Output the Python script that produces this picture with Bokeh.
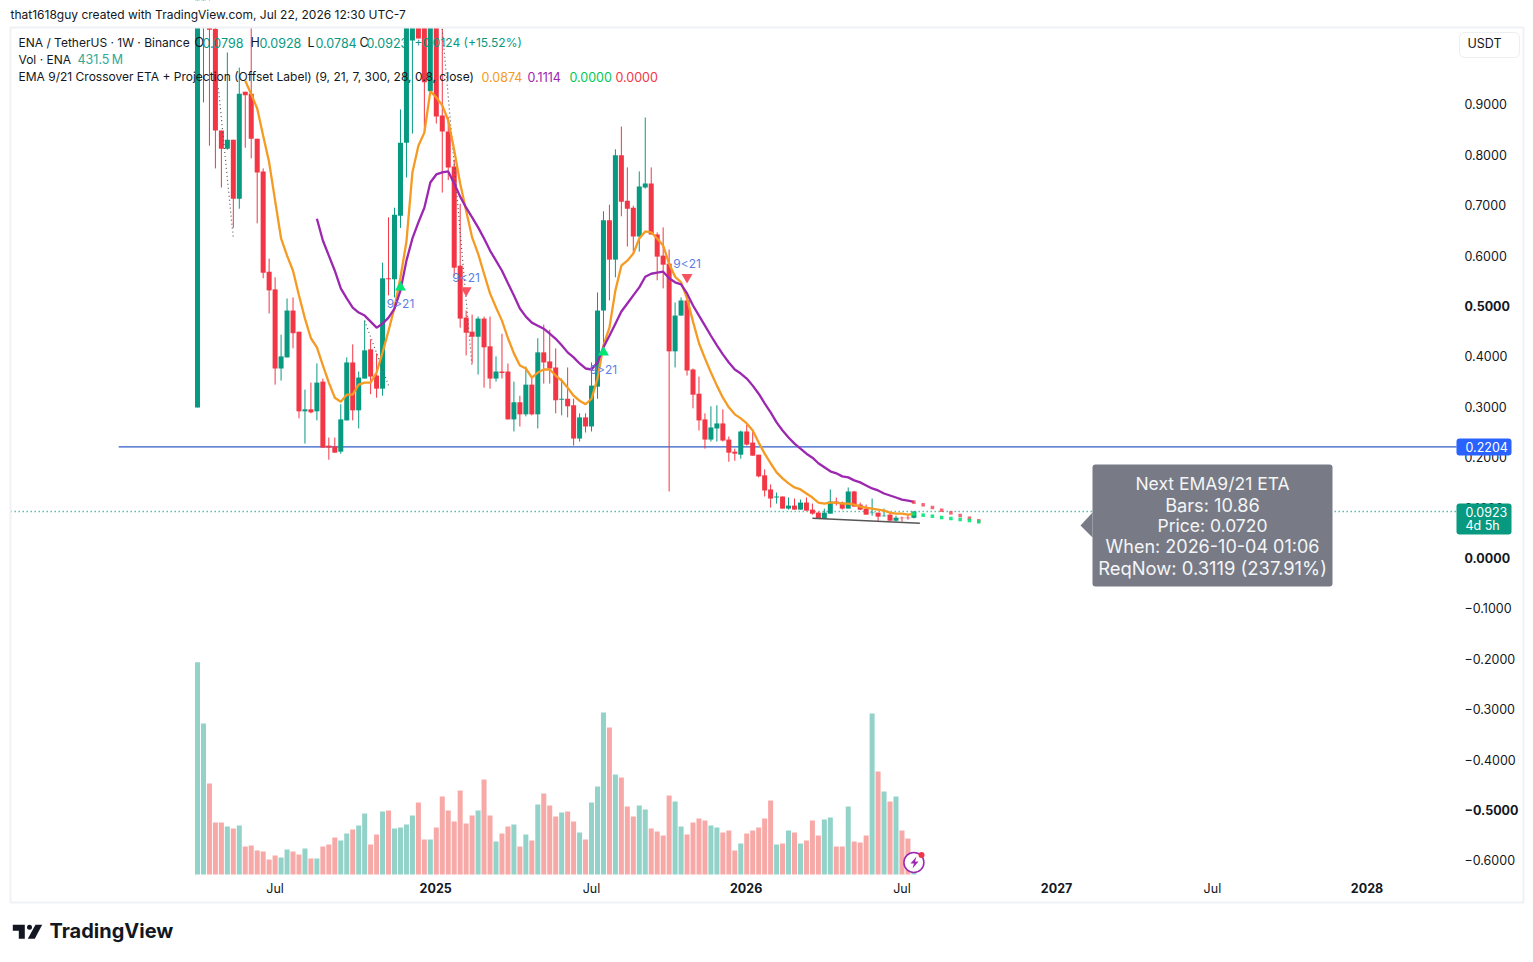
from bokeh.plotting import figure
from bokeh.embed import file_html
from bokeh.resources import INLINE
from bokeh.core.properties import value
from bokeh.models import (Range1d, LinearAxis, FixedTicker, Label, BoxAnnotation, PolyAnnotation,
                          ColumnDataSource)

opens = [.2986,1.10,1.053,1.05,.848,.812,.830,.713,.925,.921,.832,.767,.568,.533,.376,.398,.491,.449,.291,.295,
         .291,.350,.223,.221,.211,.273,.388,.293,.356,.414,.362,.336,.555,.553,.679,.824,1.027,1.07,1.08,.926,
         1.08,.878,.846,.777,.580,.477,.449,.439,.475,.420,.356,.370,.370,.275,.309,.285,.344,.285,.408,.390,
         .378,.314,.316,.303,.237,.279,.261,.340,.491,.670,.592,.799,.709,.695,.638,.735,.743,.642,.600,.584,
         .410,.481,.511,.374,.326,.275,.235,.257,.267,.235,.211,.205,.251,.229,.205,.164,.136,.120,.122,.098,
         .104,.096,.110,.096,.090,.078,.088,.112,.110,.098,.132,.106,.098,.089,.090,.083,.086,.074,.080,.080,.0798]
highs = [1.30,1.50,1.20,1.10,.848,1.003,.830,.973,.925,1.06,.832,.773,.594,.557,.443,.515,.517,.449,.334,.348,
         .386,.356,.239,.239,.305,.398,.424,.370,.471,.434,.406,.586,.676,.695,.890,1.10,1.09,1.09,1.10,1.10,
         1.10,1.05,.875,.790,.703,.491,.483,.479,.479,.479,.400,.445,.386,.350,.322,.380,.358,.436,.463,.453,
         .416,.356,.378,.316,.287,.287,.388,.527,.688,.701,.811,.856,.775,.699,.767,.874,.775,.646,.656,.612,
         .507,.517,.515,.376,.360,.287,.301,.303,.295,.241,.217,.253,.265,.255,.205,.176,.146,.130,.122,.120,
         .118,.116,.120,.108,.092,.098,.136,.120,.112,.140,.133,.110,.106,.118,.090,.098,.090,.084,.082,.086,.0928]
lows = [.2986,.904,.818,.773,.735,.810,.655,.693,.814,.793,.664,.555,.485,.344,.352,.398,.416,.277,.227,.287,
        .273,.219,.195,.209,.207,.273,.273,.257,.356,.325,.318,.322,.521,.517,.655,.755,.842,1.031,.844,.920,
        .862,.725,.750,.560,.457,.402,.386,.364,.338,.336,.350,.356,.275,.251,.261,.281,.283,.257,.346,.346,
        .287,.283,.279,.223,.231,.249,.251,.316,.418,.511,.557,.678,.618,.606,.608,.733,.642,.551,.535,.132,
        .378,.481,.362,.297,.253,.217,.231,.231,.231,.191,.193,.197,.223,.203,.160,.122,.100,.108,.098,.096,
        .096,.096,.094,.086,.078,.078,.088,.104,.096,.098,.102,.095,.086,.084,.072,.082,.074,.072,.072,.076,.0784]
closes = [1.25,1.30,1.048,.848,.812,.830,.713,.921,.918,.832,.765,.566,.531,.376,.400,.491,.446,.291,.295,.289,
          .348,.219,.219,.209,.275,.388,.293,.358,.412,.360,.336,.555,.553,.681,.824,1.08,1.052,1.031,.944,1.08,
          .876,.846,.775,.576,.475,.447,.439,.475,.418,.356,.370,.367,.275,.309,.285,.344,.285,.408,.388,.376,
          .313,.316,.301,.237,.279,.261,.342,.491,.670,.592,.799,.707,.693,.638,.737,.743,.642,.598,.582,.410,
          .481,.511,.372,.324,.273,.235,.259,.267,.233,.209,.207,.251,.225,.203,.162,.134,.118,.122,.098,.104,
          .096,.110,.094,.088,.078,.090,.112,.108,.098,.132,.102,.096,.086,.090,.082,.084,.074,.080,.079,.079,.0923]
volumes = [4247,3020,1820,1040,1040,960,920,980,560,580,480,460,300,380,340,500,460,400,520,320,
           320,560,600,740,680,820,900,980,1220,600,800,1260,1280,920,940,1000,1180,1440,700,700,
           940,1560,1280,1060,1680,1020,1180,1280,1900,1180,660,820,960,1000,560,800,680,1400,1620,1380,
           1160,1240,1260,1060,840,700,1440,1760,3240,2940,2000,1940,1360,1160,1380,1300,920,860,780,1580,
           1460,960,800,1040,1120,1080,980,940,840,880,480,620,820,880,940,1120,1480,600,620,880,
           840,620,680,1080,780,1100,1140,560,560,1360,660,640,780,3220,2060,1660,1460,1560,880,720,431.5]
ema9_first = 8
ema9 = [.947,.920,.892,.838,.785,.709,.634,.600,.570,.521,.475,.436,.418,.382,.348,.318,.310,.324,.324,.344,
        .348,.348,.368,.408,.451,.497,.557,.628,.765,.818,.844,.926,.914,.898,.868,.809,.743,.689,.636,.604,
        .564,.525,.497,.471,.436,.406,.382,.376,.358,.368,.374,.374,.362,.352,.338,.322,.312,.305,.316,.356,
        .422,.457,.531,.580,.590,.604,.634,.648,.646,.634,.620,.584,.558,.547,.515,.469,.426,.396,.368,.342,
        .318,.299,.285,.277,.267,.253,.229,.207,.188,.170,.158,.148,.140,.136,.128,.120,.110,.108,.110,.110,
        .108,.108,.106,.102,.100,.098,.096,.094,.090,.088,.088,.086,.0874]
ema21_first = 20
ema21 = [.673,.630,.600,.570,.535,.515,.497,.487,.481,.469,.457,.465,.477,.495,.531,.590,.634,.666,.695,.745,
         .761,.765,.767,.743,.717,.695,.676,.656,.634,.610,.590,.570,.545,.521,.495,.479,.467,.461,.455,.445,
         .435,.422,.408,.398,.386,.376,.374,.388,.418,.441,.465,.489,.505,.521,.537,.558,.564,.566,.568,.555,
         .547,.543,.525,.501,.481,.461,.441,.422,.404,.388,.374,.366,.356,.342,.326,.307,.289,.269,.253,.239,
         .227,.217,.207,.199,.188,.180,.172,.168,.162,.160,.154,.150,.144,.138,.134,.128,.124,.120,.116,.114,.1114]
proj_x = [120, 121.55, 123.1, 124.65, 126.2, 127.75, 129.3, 130.86]
proj_slow = [.1107, .1055, .1002, .0948, .0896, .0843, .0790, .0738]
proj_fast = [.0874, .0850, .0829, .0803, .0784, .0764, .0744, .0718]
up_x, up_y = [34, 68], [.537, .408]
up_label_y = [.505, .374]
dn_x, dn_y = [45, 82], [.531, .557]
dn_label_y = [.557, .584]
dot1_x, dot1_y = [3.5, 6.0], [.932, .634]
dot2_x, dot2_y = [28, 32], [.471, .342]
dot3_x, dot3_y = [41, 46], [1.05, .378]
trend_x, trend_y = [103, 121], [.0790, .0690]
hline_x, hline_y = [-13.2, 210.9], [.2204, .2204]
last_x, last_y = [-31.3, 210.9], [.0923, .0923]
x_ticks = [13, 40, 66, 92, 118, 144, 170, 196]
x_tick_labels = ["Jul", "2025", "Jul", "2026", "Jul", "2027", "Jul", "2028"]
y_ticks = [.9, .8, .7, .6, .5, .4, .3, .2, .1, 0, -.1, -.2, -.3, -.4, -.5, -.6]
y_tick_labels = ["0.9000","0.8000","0.7000","0.6000","0.5000","0.4000","0.3000","0.2000","0.1000","0.0000",
                 "\u22120.1000","\u22120.2000","\u22120.3000","\u22120.4000","\u22120.5000","\u22120.6000"]
y_bold = [.5, 0, -.5]
tip_lines = ["Next EMA9/21 ETA", "Bars: 10.86", "Price: 0.0720", "When: 2026-10-04 01:06", "ReqNow: 0.3119 (237.91%)"]

W, H = 1530, 958
PXW = 5.97
PXP = 504.0
FONT = "Inter"
DARK = "#131722"
GREEN, RED = "#089981", "#f23645"

p = figure(width=W, height=H, output_backend="svg", toolbar_location=None,
           x_range=Range1d(-197 / PXW, (W - 197) / PXW),
           y_range=Range1d((557.5 - H) / PXP, 557.5 / PXP),
           min_border=0, x_axis_location=None, y_axis_location=None,
           background_fill_color="white", border_fill_color="white")
p.outline_line_color = None
p.grid.visible = False
p.extra_y_ranges = {"vol": Range1d(-(H - 874) * 20, 874 * 20)}

idx = list(range(len(opens)))
is_up = [c >= o for o, c in zip(opens, closes)]
col = [GREEN if u else RED for u in is_up]
vcol = ["#92d2c8" if u else "#f7a9a7" for u in is_up]

src = ColumnDataSource(dict(x=idx, o=opens, h=highs, l=lows, c=closes, v=volumes, col=col, vcol=vcol,
                            top=[max(a, b) for a, b in zip(opens, closes)],
                            bot=[min(a, b) for a, b in zip(opens, closes)]))
p.vbar(x="x", top="v", bottom=0, width=0.84, fill_color="vcol", line_color=None, y_range_name="vol", source=src)

p.line(hline_x, hline_y, line_color="#2f5cc9", line_width=1.2)
p.line(last_x, last_y, line_color=GREEN, line_dash="1 3", line_width=1.4)

p.segment("x", "h", "x", "l", line_color="col", line_width=1, source=src)
p.vbar(x="x", top="top", bottom="bot", width=0.84, fill_color="col", line_color=None, source=src)

for dx, dy in ((dot1_x, dot1_y), (dot2_x, dot2_y), (dot3_x, dot3_y)):
    p.line(dx, dy, line_color="#555555", line_dash="1 3", line_width=1.2)

p.line(idx[ema9_first:], ema9, line_color="#f59a23", line_width=2.3)
p.line(idx[ema21_first:], ema21, line_color="#9c27b0", line_width=2.3)
p.line(trend_x, trend_y, line_color="#555555", line_width=1.5)

p.scatter(proj_x, proj_slow, marker="square", size=3.5, fill_color=RED, line_color=None, alpha=0.75)
p.scatter(proj_x, proj_fast, marker="square", size=3.5, fill_color="#00e676", line_color=None, alpha=0.9)

p.scatter(up_x, up_y, marker="triangle", size=11, fill_color="#00e676", line_color=None)
p.scatter(dn_x, dn_y, marker="inverted_triangle", size=11, fill_color="#f7525f", line_color=None)
p.text(up_x, up_label_y, text=["9>21"] * len(up_x), text_font=value(FONT), text_font_size="12px",
       text_color="#5b7fe6", text_align="center", text_baseline="middle")
p.text(dn_x, dn_label_y, text=["9<21"] * len(dn_x), text_font=value(FONT), text_font_size="12px",
       text_color="#5b7fe6", text_align="center", text_baseline="middle")

# real axes, drawn inward so that the tags can lie over them
yax = LinearAxis(ticker=FixedTicker(ticks=y_ticks),
                 major_label_overrides={t: ("" if t in y_bold else s) for t, s in zip(y_ticks, y_tick_labels)})
yax.axis_line_color = None
yax.major_tick_line_color = None
yax.minor_tick_line_color = None
yax.major_tick_in = 0
yax.major_tick_out = 0
yax.major_label_standoff = 1464 - W
yax.major_label_text_font = FONT
yax.major_label_text_font_size = "12.5px"
yax.major_label_text_color = DARK
p.add_layout(yax, "right")

xax = LinearAxis(ticker=FixedTicker(ticks=x_ticks),
                 major_label_overrides={t: (s if s == "Jul" else "") for t, s in zip(x_ticks, x_tick_labels)})
xax.axis_line_color = None
xax.major_tick_line_color = None
xax.minor_tick_line_color = None
xax.major_tick_in = 0
xax.major_tick_out = 0
xax.major_label_standoff = 880 - H
xax.major_label_text_font = FONT
xax.major_label_text_font_size = "12.5px"
xax.major_label_text_color = DARK
p.add_layout(xax, "below")


def lab(px, py, text, color=DARK, size=13, align="left", style="normal", baseline="middle", level="overlay"):
    """Label placed by page pixel (screen units run from the frame's lower left corner)."""
    p.add_layout(Label(x=px, y=H - py + 1, x_units="screen", y_units="screen", text=text,
                       text_font=FONT, text_font_size=f"{size}px", text_color=color, text_align=align,
                       text_font_style=style, text_baseline=baseline, level=level))


def box(l, r, t, b, fill=None, line=None, lw=1, radius=0, level="overlay"):
    p.add_layout(BoxAnnotation(left=l, right=r, top=t, bottom=b,
                               left_units="canvas", right_units="canvas", top_units="canvas", bottom_units="canvas",
                               fill_color=fill, fill_alpha=1 if fill else 0, line_color=line, line_width=lw,
                               line_alpha=1 if line else 0, border_radius=radius, level=level, editable=False))


def poly(pts, fill):
    p.add_layout(PolyAnnotation(xs=[a for a, _ in pts], ys=[b for _, b in pts],
                                xs_units="canvas", ys_units="canvas", fill_color=fill, fill_alpha=1,
                                line_color=None, level="overlay"))


# the chart pane ends at its top edge: what runs above it is masked
box(0, W, 0, 27, fill="white", level="annotation")

# bold ticks
for t, s in zip(y_ticks, y_tick_labels):
    if t in y_bold:
        p.add_layout(Label(x=1464, x_units="screen", y=t, y_units="data", text=s, text_font=FONT,
                           text_font_size="12.5px", text_font_style="bold", text_color=DARK, text_baseline="middle"))
for t, s in zip(x_ticks, x_tick_labels):
    if s != "Jul":
        p.add_layout(Label(x=t - 0.1, x_units="data", y=H - 887, y_units="screen", text=s, text_font=FONT,
                           text_font_size="12.5px", text_font_style="bold", text_color=DARK,
                           text_align="center", text_baseline="middle"))

# frame and header
box(10, 1523, 27, 902, line="#f0f1f4", lw=2)
lab(10, 15, "that1618guy created with TradingView.com, Jul 22, 2026 12:30 UTC-7", size=12)
box(1459, 1519, 32, 57, fill="white", line="#eceef2", radius=5)
lab(1484, 44, "USDT", size=12.5, align="center")

# legend
lab(18, 43, "ENA / TetherUS \u00b7 1W \u00b7 Binance", size=12)
for px, s, c in ((194, "O", DARK), (202, "0.0798", GREEN), (250, "H", DARK), (259, "0.0928", GREEN),
                 (307, "L", DARK), (315, "0.0784", GREEN), (359, "C", DARK), (366, "0.0923", GREEN)):
    lab(px, 43, s, color=c, size=12.5)
lab(414, 43, "+0.0124 (+15.52%)", color=GREEN, size=12)
lab(18, 60, "Vol \u00b7 ENA", size=12)
lab(77, 60, "431.5\u202fM", color="#2fa997", size=12.5)
lab(18, 77, "EMA 9/21 Crossover ETA + Projection (Offset Label) (9, 21, 7, 300, 28, 0.8, close)", size=12)
for px, s, c in ((481, "0.0874", "#f59a23"), (527, "0.1114", "#9c27b0"), (569, "0.0000", "#00c853"), (615, "0.0000", RED)):
    lab(px, 77, s, color=c, size=12.5)

# price tags
box(1456, 1511, 438, 455, fill="#2962ff", radius=3)
lab(1465, 447, "0.2204", color="white", size=12.5)
box(1456, 1511, 503, 534, fill=GREEN, radius=3)
lab(1465, 512, "0.0923", color="white", size=12.5)
lab(1465, 526, "4d 5h", color="white", size=12.5)

# ETA tooltip
box(1092, 1332, 464, 586, fill="#787b86", radius=3)
poly([(1092, 512), (1092, 537), (1080, 525)], "#787b86")
for py, s, sz in zip((484, 505, 526, 547, 568), tip_lines, (17.5, 18.2, 17.5, 18, 18.4)):
    lab(1212, py, s, color="#f4f5f7", size=sz, align="center")

# snapshot badge
p.scatter([120], [-0.604], marker="circle", size=20, fill_color="white", line_color="#9c27b0", line_width=1.5)
poly([(916, 856), (910, 863), (913.5, 863), (912, 868), (918, 861), (914.5, 861)], "#9c27b0")
box(918, 924, 851.5, 857.5, fill=RED, radius=3)

# brand
poly([(12.3, 924.3), (24.3, 924.3), (24.3, 938.3), (18.3, 938.3), (18.3, 930.3), (12.3, 930.3)], DARK)
poly([(35, 924.3), (41.7, 924.3), (34.3, 938.3), (27.3, 938.3)], DARK)
box(26.5, 31.5, 924.3, 929.3, fill=DARK, radius=3)
lab(49, 931.5, "TradingView", size=20, style="bold")

open("out.html", "w").write(file_html(p, INLINE))
